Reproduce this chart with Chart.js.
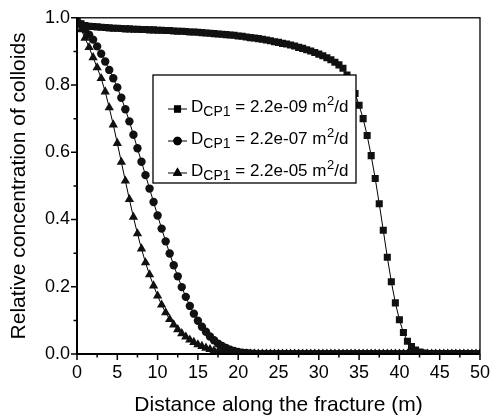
<!DOCTYPE html>
<html>
<head>
<meta charset="utf-8">
<script src="https://cdn.jsdelivr.net/npm/chart.js@4.4.1/dist/chart.umd.min.js"></script>
<style>
  html, body { margin: 0; padding: 0; background: #fff; }
  #wrap { width: 498px; height: 418px; }
</style>
</head>
<body>
<div id="wrap"><canvas id="colloidChart" width="498" height="418"></canvas></div>
<script>
// distance along the fracture (m)
const distances = [
  0, 0.5, 1, 1.5, 2, 2.5, 3, 3.5, 4, 4.5, 5, 5.5, 6, 6.5, 7, 7.5, 8, 8.5, 9, 9.5,
  10, 10.5, 11, 11.5, 12, 12.5, 13, 13.5, 14, 14.5, 15, 15.5, 16, 16.5, 17, 17.5, 18, 18.5, 19, 19.5,
  20, 20.5, 21, 21.5, 22, 22.5, 23, 23.5, 24, 24.5, 25, 25.5, 26, 26.5, 27, 27.5, 28, 28.5, 29, 29.5,
  30, 30.5, 31, 31.5, 32, 32.5, 33, 33.5, 34, 34.5, 35, 35.5, 36, 36.5, 37, 37.5, 38, 38.5, 39, 39.5,
  40, 40.5, 41, 41.5, 42, 42.5, 43, 43.5, 44, 44.5, 45, 45.5, 46, 46.5, 47, 47.5, 48, 48.5, 49, 49.5,
  50
];

// D_CP1 = 2.2e-09 m2/d
const conc09 = [
  1.000, 0.982, 0.977, 0.975, 0.974, 0.973, 0.972, 0.971, 0.970, 0.969, 0.969, 0.968, 0.967, 0.967, 0.966, 0.966, 0.965, 0.965, 0.964, 0.964,
  0.963, 0.963, 0.962, 0.962, 0.961, 0.960, 0.960, 0.959, 0.958, 0.958, 0.957, 0.956, 0.955, 0.954, 0.953, 0.952, 0.951, 0.950, 0.949, 0.948,
  0.946, 0.945, 0.943, 0.941, 0.940, 0.938, 0.936, 0.934, 0.932, 0.929, 0.927, 0.924, 0.922, 0.919, 0.916, 0.912, 0.909, 0.905, 0.901, 0.897,
  0.892, 0.887, 0.881, 0.875, 0.868, 0.860, 0.850, 0.830, 0.800, 0.775, 0.740, 0.700, 0.650, 0.590, 0.522, 0.447, 0.368, 0.288, 0.215, 0.152,
  0.102, 0.064, 0.038, 0.022, 0.012, 0.006, 0.003, 0.001, 0, 0, 0, 0, 0, 0, 0, 0, 0, 0, 0, 0,
  0
];

// D_CP1 = 2.2e-07 m2/d
const conc07 = [
  0.990, 0.980, 0.965, 0.950, 0.935, 0.915, 0.893, 0.870, 0.845, 0.820, 0.793, 0.762, 0.728, 0.692, 0.652, 0.612, 0.572, 0.532, 0.492, 0.452,
  0.412, 0.373, 0.335, 0.299, 0.264, 0.231, 0.199, 0.170, 0.143, 0.120, 0.099, 0.081, 0.066, 0.052, 0.041, 0.031, 0.024, 0.018, 0.013, 0.009,
  0.006, 0.004, 0.003, 0.002, 0.001, 0, 0, 0, 0, 0, 0, 0, 0, 0, 0, 0, 0, 0, 0, 0,
  0, 0, 0, 0, 0, 0, 0, 0, 0, 0, 0, 0, 0, 0, 0, 0, 0, 0, 0, 0,
  0, 0, 0, 0, 0, 0, 0, 0, 0, 0, 0, 0, 0, 0, 0, 0, 0, 0, 0, 0,
  0
];

// D_CP1 = 2.2e-05 m2/d
const conc05 = [
  0.990, 0.965, 0.940, 0.912, 0.882, 0.852, 0.820, 0.780, 0.733, 0.682, 0.627, 0.571, 0.515, 0.460, 0.407, 0.358, 0.313, 0.272, 0.236, 0.203,
  0.173, 0.146, 0.123, 0.103, 0.087, 0.073, 0.061, 0.051, 0.042, 0.035, 0.028, 0.023, 0.018, 0.014, 0.010, 0.007, 0.005, 0.003, 0.002, 0.001,
  0, 0, 0, 0, 0, 0, 0, 0, 0, 0, 0, 0, 0, 0, 0, 0, 0, 0, 0, 0,
  0, 0, 0, 0, 0, 0, 0, 0, 0, 0, 0, 0, 0, 0, 0, 0, 0, 0, 0, 0,
  0, 0, 0, 0, 0, 0, 0, 0, 0, 0, 0, 0, 0, 0, 0, 0, 0, 0, 0, 0,
  0
];

const diffusionLabels = ['2.2e-09', '2.2e-07', '2.2e-05'];
const markerStyles = ['rect', 'circle', 'triangle'];
const markerSizes = [5, 4.2, 5.4];
const xMajorTicks = [0, 5, 10, 15, 20, 25, 30, 35, 40, 45, 50];
const yMajorTicks = [0, 0.2, 0.4, 0.6, 0.8, 1.0];

const FONT = '"Liberation Sans", Arial, Helvetica, sans-serif';

function toPoints(values) {
  return values.map((v, i) => ({ x: distances[i], y: v }));
}

// frame, outward ticks (major + minor) and the legend box
const framePlugin = {
  id: 'frame',
  afterDatasetsDraw(chart) {
    const { ctx, chartArea: a, scales } = chart;
    const xs = scales.x, ys = scales.y;
    ctx.save();
    ctx.strokeStyle = '#000';

    ctx.lineWidth = 1.3;
    ctx.strokeRect(a.left, a.top, a.right - a.left, a.bottom - a.top);

    ctx.lineWidth = 2;
    ctx.beginPath();
    ctx.moveTo(a.left, a.top - 0.5);
    ctx.lineTo(a.left, a.bottom);
    ctx.lineTo(a.right, a.bottom);
    ctx.stroke();

    ctx.lineWidth = 1.5;
    ctx.beginPath();
    xMajorTicks.forEach((t, i) => {
      const px = xs.getPixelForValue(t);
      ctx.moveTo(px, a.bottom);
      ctx.lineTo(px, a.bottom + 6);
      if (i < xMajorTicks.length - 1) {
        const pm = xs.getPixelForValue(t + 2.5);
        ctx.moveTo(pm, a.bottom);
        ctx.lineTo(pm, a.bottom + 3.5);
      }
    });
    yMajorTicks.forEach((t, i) => {
      const py = ys.getPixelForValue(t);
      ctx.moveTo(a.left, py);
      ctx.lineTo(a.left - 6, py);
      if (i < yMajorTicks.length - 1) {
        const pm = ys.getPixelForValue(t + 0.1);
        ctx.moveTo(a.left, pm);
        ctx.lineTo(a.left - 3.5, pm);
      }
    });
    ctx.stroke();

    // legend
    const bx = 153, by = 75, bw = 203, bh = 108;
    ctx.fillStyle = '#fff';
    ctx.fillRect(bx, by, bw, bh);
    ctx.lineWidth = 1.3;
    ctx.strokeRect(bx, by, bw, bh);

    chart.data.datasets.forEach((ds, i) => {
      const my = 109 + i * 32;
      const base = 112 + i * 32;
      ctx.strokeStyle = '#000';
      ctx.lineWidth = 1;
      ctx.beginPath();
      ctx.moveTo(168, my);
      ctx.lineTo(187, my);
      ctx.stroke();
      ctx.fillStyle = '#000';
      Chart.helpers.drawPoint(ctx, { pointStyle: ds.pointStyle, radius: ds.pointRadius, borderWidth: 0 }, 177.5, my);
      ctx.fill();

      ctx.fillStyle = '#000';
      ctx.textBaseline = 'alphabetic';
      ctx.textAlign = 'left';
      let x = 191;
      ctx.font = '17px ' + FONT;
      ctx.fillText('D', x, base); x += ctx.measureText('D').width;
      ctx.font = '14px ' + FONT;
      ctx.fillText('CP1', x, base + 4); x += ctx.measureText('CP1').width;
      ctx.font = '17px ' + FONT;
      const mid = ' = ' + diffusionLabels[i] + ' m';
      ctx.fillText(mid, x, base); x += ctx.measureText(mid).width;
      ctx.font = '13px ' + FONT;
      ctx.fillText('2', x + 0.5, base - 7); x += ctx.measureText('2').width + 0.5;
      ctx.font = '17px ' + FONT;
      ctx.fillText('/d', x, base);
    });
    ctx.restore();
  }
};

new Chart(document.getElementById('colloidChart').getContext('2d'), {
  type: 'line',
  data: {
    datasets: [conc09, conc07, conc05].map((vals, i) => ({
      label: diffusionLabels[i],
      data: toPoints(vals),
      borderColor: '#000',
      backgroundColor: '#000',
      borderWidth: 1,
      pointStyle: markerStyles[i],
      pointRadius: markerSizes[i],
      pointBorderWidth: 0,
      pointBackgroundColor: '#111',
      tension: 0,
      clip: 0
    }))
  },
  options: {
    responsive: false,
    animation: false,
    layout: { padding: { left: 0, top: 17, right: 10, bottom: 0 } },
    plugins: {
      legend: { display: false },
      tooltip: { enabled: false }
    },
    scales: {
      x: {
        type: 'linear',
        min: 0,
        max: 50,
        grid: { display: false, drawTicks: false },
        border: { display: false },
        afterFit: (s) => { s.height = 64; },
        ticks: {
          stepSize: 5,
          padding: 8,
          color: '#000',
          font: { family: FONT, size: 18 },
          maxRotation: 0
        },
        title: {
          display: true,
          text: 'Distance along the fracture (m)',
          color: '#000',
          font: { family: FONT, size: 21 },
          padding: { top: 0, bottom: 0 }
        }
      },
      y: {
        min: 0,
        max: 1,
        grid: { display: false, drawTicks: false },
        border: { display: false },
        afterFit: (s) => { s.width = 77; },
        ticks: {
          stepSize: 0.2,
          padding: 7,
          color: '#000',
          font: { family: FONT, size: 18 },
          callback: (v) => v.toFixed(1)
        },
        title: {
          display: true,
          text: 'Relative concentration of colloids',
          color: '#000',
          font: { family: FONT, size: 21 },
          padding: { top: 7, bottom: 0 }
        }
      }
    }
  },
  plugins: [framePlugin]
});
</script>
</body>
</html>
